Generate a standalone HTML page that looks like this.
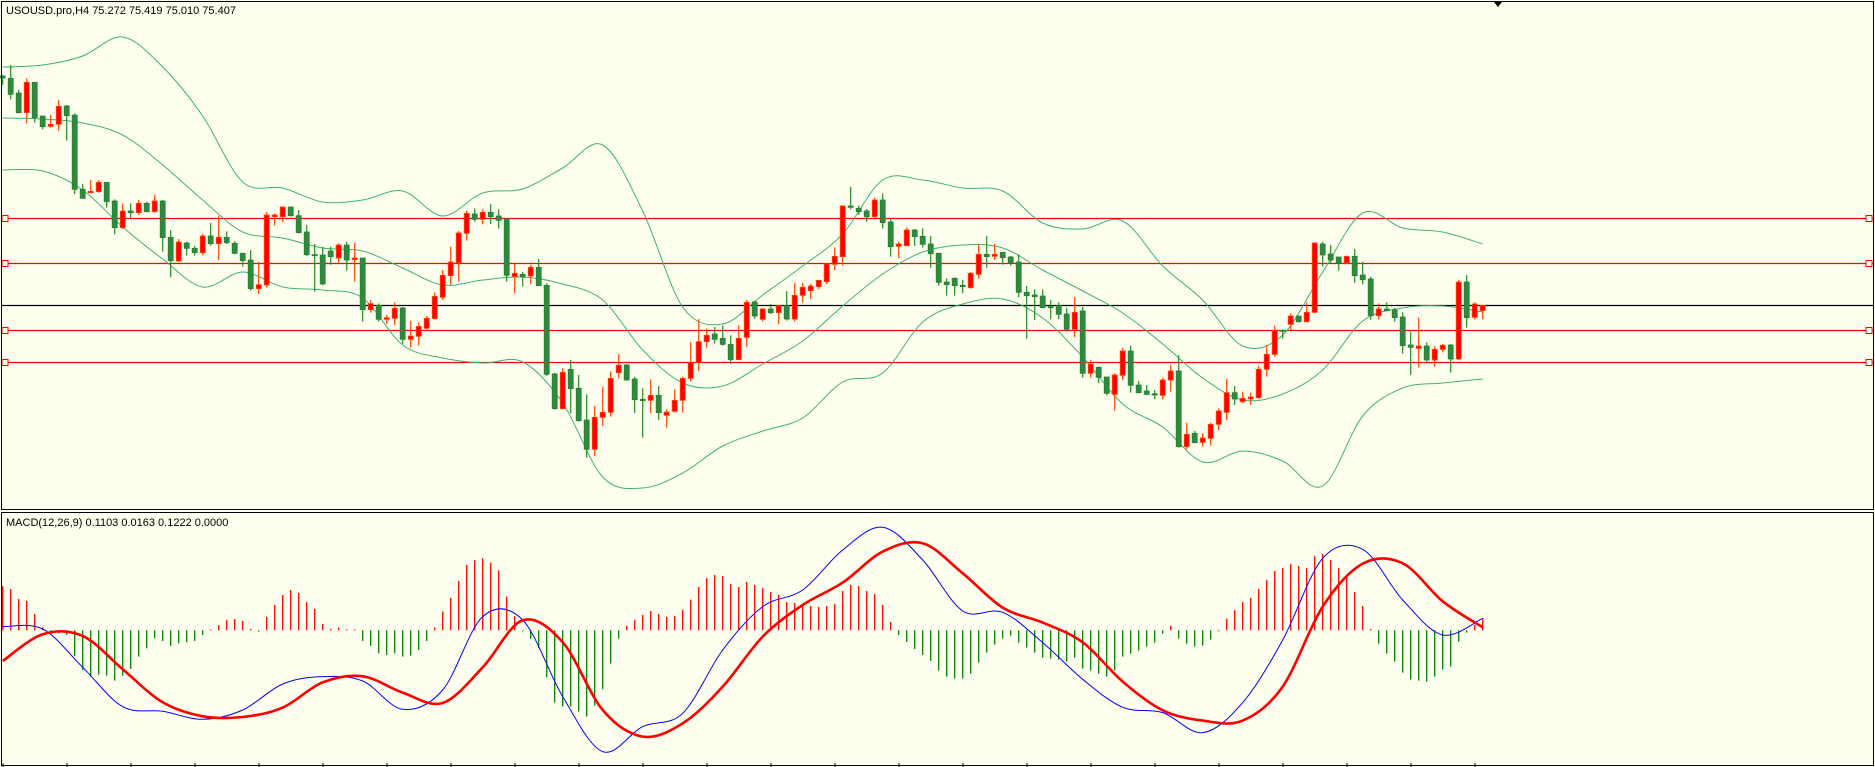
<!DOCTYPE html>
<html><head><meta charset="utf-8"><title>USOUSD.pro,H4</title>
<style>
html,body{margin:0;padding:0;background:#fffff0;}
svg{display:block;font-family:"Liberation Sans",Arial,sans-serif;}
</style></head>
<body>
<svg id="chart" width="1875" height="767" viewBox="0 0 1875 767" xmlns="http://www.w3.org/2000/svg">
<rect x="0" y="0" width="1875" height="767" fill="#fffff0"/>
<g id="main"></g>
<g id="macd"></g>
<rect x="1.5" y="1.5" width="1872" height="508" fill="none" stroke="#000" stroke-width="1"/>
<rect x="1.5" y="512.5" width="1872" height="253" fill="none" stroke="#000" stroke-width="1"/>
<polygon points="1494,2 1502,2 1498,7" fill="#000"/>
<text x="6" y="14" font-size="11" fill="#000">USOUSD.pro,H4  75.272 75.419 75.010 75.407</text>
<text x="6" y="526" font-size="11" fill="#000">MACD(12,26,9) 0.1103 0.0163 0.1222 0.0000</text>
</svg>
<script>
const opens=[82.52,82.45,82.01,81.42,82.33,81.32,81.01,81.07,81.62,81.35,79.12,79.02,79.05,79.33,78.77,77.97,78.47,78.42,78.70,78.45,78.77,77.68,76.97,77.51,77.35,77.22,77.72,77.49,77.68,77.50,77.20,77.00,76.14,76.25,78.30,78.30,78.59,78.33,77.84,77.16,77.15,77.27,77.06,77.45,77.01,77.06,75.51,75.64,75.22,75.25,75.56,74.62,74.71,74.95,75.24,75.88,76.53,76.92,77.80,78.38,78.22,78.43,78.32,78.23,76.50,76.57,76.52,76.78,76.24,73.58,72.54,73.72,73.15,72.20,71.32,72.28,72.43,73.62,73.85,73.43,72.82,72.79,72.94,72.34,72.46,72.79,73.45,73.92,74.55,74.78,74.65,74.47,74.01,74.68,75.74,75.22,75.53,75.42,75.63,75.23,75.94,76.08,76.20,76.35,76.87,77.10,78.62,78.55,78.47,78.30,78.80,78.14,77.41,77.43,77.90,77.71,77.48,77.20,76.34,76.45,76.24,76.17,76.57,77.17,77.11,77.23,77.09,76.94,76.03,75.95,75.92,75.60,75.63,75.38,74.92,75.47,73.60,73.78,73.49,72.97,73.54,74.27,73.25,73.07,72.99,72.94,73.40,73.67,71.40,71.80,71.53,71.65,72.07,72.43,73.02,72.75,72.83,72.87,73.72,74.17,74.89,75.07,75.32,75.15,75.43,77.48,77.18,77.09,76.91,77.11,76.55,76.43,75.33,75.53,75.50,75.29,74.45,74.35,74.42,74.00,74.32,74.45,74.03,76.34,75.28,75.48];
const highs=[82.55,82.85,82.10,82.45,82.33,81.32,81.35,81.80,81.65,81.40,79.28,79.40,79.40,79.33,78.82,78.70,78.70,78.80,78.75,78.95,78.80,77.90,77.63,77.55,77.42,77.78,78.11,78.33,77.86,77.56,77.22,77.30,76.95,78.44,78.40,78.60,78.59,78.50,78.05,77.48,77.40,77.40,77.50,77.55,77.52,77.06,75.80,75.70,75.35,75.73,75.59,75.17,75.13,75.32,76.03,76.70,77.40,77.87,78.48,78.55,78.52,78.68,78.52,78.25,76.90,76.64,76.85,77.03,76.30,73.62,73.75,74.00,73.55,72.97,72.62,73.20,73.65,74.18,73.88,73.50,73.15,73.42,73.22,72.52,73.12,73.50,74.54,75.23,74.94,74.99,75.03,74.74,75.05,75.80,75.78,75.56,75.68,75.65,76.07,76.31,76.31,76.28,76.41,76.90,77.38,78.65,79.20,78.63,78.53,78.87,79.00,78.22,77.55,77.97,77.93,77.95,77.72,77.22,76.45,76.48,76.40,76.64,77.48,77.72,77.48,77.23,77.12,77.17,76.22,76.12,76.12,75.80,75.73,75.57,75.89,75.59,74.00,73.80,73.49,73.60,74.37,74.43,73.37,73.25,73.10,73.47,73.85,74.15,72.12,71.87,71.80,72.12,72.55,73.43,73.22,73.05,73.02,73.83,74.45,75.03,74.92,75.40,75.32,75.73,77.53,77.55,77.45,77.09,77.13,77.33,76.95,76.50,75.70,75.73,75.56,75.43,74.84,75.27,74.53,74.42,74.48,74.48,76.40,76.55,75.73,75.64];
const lows=[82.25,81.82,81.40,81.10,81.12,80.92,80.97,80.88,80.58,78.97,78.85,79.00,79.02,78.57,77.77,77.93,78.25,78.35,78.43,78.42,77.25,76.48,76.94,77.13,77.13,77.15,77.43,77.00,77.48,77.17,76.80,76.08,75.98,76.17,78.03,78.14,78.30,77.80,77.12,76.05,76.24,76.86,76.90,76.68,76.35,75.15,75.42,75.15,75.08,75.05,74.48,74.37,74.43,74.92,75.21,75.80,76.25,76.35,77.58,78.15,78.07,78.08,77.94,76.35,76.00,76.20,76.28,76.23,73.52,72.51,72.52,72.40,72.15,71.07,71.12,72.02,72.30,73.45,73.38,72.41,71.67,72.40,72.20,71.97,72.42,72.42,73.35,73.67,74.37,74.50,74.43,73.88,74.00,74.40,75.24,75.15,75.38,75.08,75.18,75.15,75.72,75.83,76.12,76.28,76.70,76.83,78.52,78.35,78.14,78.27,77.94,77.10,77.06,77.42,77.42,77.37,76.77,76.23,75.93,75.93,76.00,76.14,76.43,76.77,77.00,76.86,76.83,75.88,74.64,75.20,75.55,75.22,75.22,74.85,74.68,73.47,73.47,73.30,72.94,72.48,73.40,73.02,73.00,72.94,72.82,72.82,73.05,71.37,71.32,71.50,71.40,71.43,71.90,72.20,72.65,72.70,72.65,72.84,73.50,74.10,74.64,74.85,75.12,75.13,75.40,76.80,76.90,76.68,76.87,76.32,76.27,75.21,75.22,75.46,75.15,74.19,73.55,73.77,73.95,73.80,74.23,73.62,74.00,74.97,75.22,75.22];
const closes=[82.46,81.97,81.42,82.33,81.27,81.00,81.07,81.61,81.33,79.12,78.85,79.06,79.33,78.75,77.97,78.47,78.42,78.70,78.45,78.77,77.67,76.98,77.54,77.35,77.22,77.72,77.49,77.68,77.52,77.20,76.98,76.14,76.26,78.35,78.35,78.59,78.33,77.82,77.16,77.13,76.28,77.10,77.45,77.00,77.06,75.51,75.69,75.22,75.27,75.55,74.62,74.72,75.01,75.25,75.91,76.54,76.94,77.81,78.40,78.22,78.43,78.30,78.19,76.54,76.60,76.49,76.78,76.23,73.57,72.54,73.63,73.14,72.18,71.32,72.28,72.43,73.45,73.84,73.40,72.81,72.78,72.94,72.42,72.44,72.79,73.45,73.92,74.55,74.74,74.62,74.47,74.01,74.65,75.73,75.32,75.53,75.42,75.63,75.23,75.94,76.18,76.22,76.39,76.88,77.11,78.62,78.58,78.45,78.30,78.80,78.12,77.40,77.48,77.90,77.70,77.47,77.19,76.33,76.26,76.23,76.20,76.60,77.17,77.10,77.17,77.07,76.91,76.03,75.93,75.90,75.57,75.57,75.37,74.92,75.43,73.60,73.88,73.48,73.00,73.55,74.27,73.24,73.02,72.97,72.95,73.40,73.67,71.40,71.77,71.52,71.66,72.07,72.47,73.02,72.83,72.85,72.89,73.72,74.17,74.89,74.86,75.32,75.15,75.43,77.51,77.15,77.00,76.91,77.11,76.53,76.41,75.33,75.53,75.48,75.27,74.43,74.38,74.42,74.00,74.32,74.44,74.03,76.34,75.27,75.68,75.64];

const bandIndex=[0,5,10,15,20,25,30,35,40,45,50,55,60,65,70,75,80,85,90,95,100,105,110,115,120,125,130,135,140,145,150,155,160,165,170,175,180,185];
const bandUpper=[82.79,82.85,83.12,83.69,82.79,81.32,79.34,79.16,78.74,78.80,79.07,78.32,79.01,79.13,79.76,80.45,78.47,75.59,75.08,75.95,76.82,77.78,79.40,79.40,79.16,79.07,78.11,77.93,78.17,76.82,75.80,74.42,74.75,76.64,78.41,77.96,77.84,77.48];
const bandMiddle=[81.26,81.23,81.11,80.75,79.85,78.80,77.84,77.66,77.36,77.27,76.76,76.25,76.40,76.49,76.28,75.80,74.30,73.31,73.22,73.88,74.57,75.62,76.58,77.24,77.45,77.36,76.70,76.07,75.41,74.48,73.46,72.80,72.98,73.70,75.17,75.56,75.62,75.44];
const bandLower=[79.70,79.67,79.10,77.99,77.03,76.19,76.64,76.19,76.10,75.86,74.45,74.06,73.91,73.94,72.71,70.49,70.16,70.61,71.42,71.87,72.26,73.34,73.61,75.14,75.68,75.83,75.26,74.09,72.68,71.99,70.94,71.27,70.97,70.22,72.32,73.16,73.31,73.43];

const levelPrices=[78.25,76.90,74.89,73.93];
const currentPrice=75.65;

const macdMain=[0.011,0.004,-0.111,-0.229,-0.243,-0.267,-0.239,-0.161,-0.139,-0.152,-0.237,-0.179,0.041,0.031,-0.199,-0.364,-0.289,-0.249,-0.059,0.071,0.121,0.241,0.309,0.211,0.058,0.054,-0.037,-0.147,-0.231,-0.247,-0.307,-0.217,-0.029,0.216,0.243,0.091,-0.014,0.036];
const macdSignal=[-0.092,-0.012,-0.017,-0.117,-0.216,-0.258,-0.260,-0.232,-0.156,-0.138,-0.187,-0.218,-0.111,0.030,-0.036,-0.239,-0.319,-0.279,-0.169,-0.019,0.076,0.143,0.236,0.261,0.171,0.068,0.023,-0.036,-0.154,-0.240,-0.271,-0.271,-0.169,0.071,0.200,0.201,0.087,0.009];
const macdHist=[0.133,0.124,0.094,0.088,0.049,0.009,-0.011,-0.009,-0.014,-0.077,-0.119,-0.139,-0.133,-0.136,-0.151,-0.136,-0.116,-0.079,-0.054,-0.024,-0.032,-0.047,-0.039,-0.036,-0.032,-0.014,0,0.016,0.031,0.034,0.028,0.004,-0.004,0.040,0.076,0.106,0.121,0.112,0.085,0.064,0.019,0.005,0.008,0.002,0.002,-0.032,-0.047,-0.069,-0.074,-0.069,-0.079,-0.076,-0.059,-0.032,0.008,0.056,0.097,0.148,0.196,0.211,0.216,0.203,0.180,
0.101,0.043,-0.001,-0.026,-0.054,-0.142,-0.217,-0.229,-0.229,-0.244,-0.259,-0.226,-0.177,-0.100,-0.025,0.014,0.031,0.046,0.058,0.049,0.040,0.043,0.062,0.092,0.130,0.157,0.166,0.163,0.139,0.130,0.145,0.136,0.127,0.115,0.106,0.085,0.082,0.079,0.073,0.070,0.073,0.079,0.118,0.136,0.133,0.118,0.109,0.076,0.025,-0.014,-0.035,-0.056,-0.074,-0.092,-0.121,-0.139,-0.145,-0.145,-0.130,-0.097,-0.067,
-0.043,-0.025,-0.016,-0.037,-0.052,-0.067,-0.082,-0.085,-0.088,-0.094,-0.082,-0.115,-0.121,-0.130,-0.139,-0.121,-0.079,-0.070,-0.061,-0.049,-0.037,-0.010,0.014,-0.025,-0.040,-0.049,-0.046,-0.028,-0.002,0.035,0.061,0.085,0.097,0.124,0.151,0.178,0.187,0.199,0.193,0.187,0.223,0.229,0.211,0.187,0.160,0.115,0.073,0.004,-0.040,-0.070,-0.094,-0.127,-0.148,-0.151,-0.154,-0.139,-0.118,-0.109,-0.034,-0.007,0.017,0.037];

const NS='http://www.w3.org/2000/svg';
function xScale(i){return 2.7+8*i;}
function yPrice(p){return 60+(83-p)*100/3;}
function yMacd(v){return 630.3-v*333.3;}
function mk(tag,attrs,parent){const e=document.createElementNS(NS,tag);for(const k in attrs)e.setAttribute(k,attrs[k]);parent.appendChild(e);return e;}
function smoothPath(pts){
  let d='M'+pts[0][0].toFixed(1)+','+pts[0][1].toFixed(1);
  for(let i=0;i<pts.length-1;i++){
    const p0=pts[Math.max(0,i-1)],p1=pts[i],p2=pts[i+1],p3=pts[Math.min(pts.length-1,i+2)];
    const c1x=p1[0]+(p2[0]-p0[0])/6,c1y=p1[1]+(p2[1]-p0[1])/6;
    const c2x=p2[0]-(p3[0]-p1[0])/6,c2y=p2[1]-(p3[1]-p1[1])/6;
    d+='C'+c1x.toFixed(1)+','+c1y.toFixed(1)+' '+c2x.toFixed(1)+','+c2y.toFixed(1)+' '+p2[0].toFixed(1)+','+p2[1].toFixed(1);
  }
  return d;
}
const main=document.getElementById('main');
const macd=document.getElementById('macd');

levelPrices.forEach(function(p){
  const y=Math.round(yPrice(p))+0.5;
  const ln=mk('line',{x1:2,x2:1873,y1:y,y2:y,stroke:'#ff0000','stroke-width':1.3},main);
  
  
  const h1=mk('rect',{x:2,y:y-3,width:6,height:6,fill:'#fffff0',stroke:'#ff0000','stroke-width':1},main);
  
  
  const h2=mk('rect',{x:1866,y:y-3,width:6,height:6,fill:'#fffff0',stroke:'#ff0000','stroke-width':1},main);
  
  
});
const cy=Math.round(yPrice(currentPrice))+0.5;
const cl=mk('line',{x1:2,x2:1873,y1:cy,y2:cy,stroke:'#000','stroke-width':1.2},main);



[[bandUpper,'bollinger-upper'],[bandMiddle,'bollinger-middle'],[bandLower,'bollinger-lower']].forEach(function(b){
  const pts=bandIndex.map(function(ix,k){return [xScale(ix),yPrice(b[0][k])];});
  const p=mk('path',{d:smoothPath(pts),fill:'none',stroke:'#3cb371','stroke-width':1},main);
  
  
});

for(let i=0;i<opens.length;i++){
  const up=closes[i]>=opens[i];
  const g=mk('g',{},main);
  
  
  const x=xScale(i);
  const wick=up?'#ff4500':'#228b22';
  mk('line',{x1:x,x2:x,y1:yPrice(highs[i]),y2:yPrice(lows[i]),stroke:wick,'stroke-width':1.2},g);
  const top=yPrice(Math.max(opens[i],closes[i]));
  const bot=yPrice(Math.min(opens[i],closes[i]));
  mk('rect',{x:x-2.5,y:top,width:5,height:Math.max(1,bot-top),fill:up?'#ff0000':'#2e8b3e',stroke:up?'#ff4500':'#2a7f38','stroke-width':0.8},g);
}

const y0=yMacd(0);
for(let i=0;i<macdHist.length;i++){
  const v=macdHist[i];
  const x=xScale(i);
  const b=mk('line',{x1:x,x2:x,y1:y0,y2:Math.abs(yMacd(v)-y0)<1?y0+(v>=0?-1:1):yMacd(v),stroke:v>=0?'#ff0000':'#008000','stroke-width':1.3},macd);
  
  
}
const mline=mk('path',{d:smoothPath(bandIndex.map(function(ix,k){return [xScale(ix),yMacd(macdMain[k])];})),fill:'none',stroke:'#0000ff','stroke-width':1},macd);


const sline=mk('path',{d:smoothPath(bandIndex.map(function(ix,k){return [xScale(ix),yMacd(macdSignal[k])];})),fill:'none',stroke:'#ff0000','stroke-width':2.6},macd);



for(let t=0;t<30;t++){
  const x=3+64*t;
  if(x>1480)break;
  const tk=mk('line',{x1:x,x2:x,y1:763,y2:767,stroke:'#000','stroke-width':1},macd);
  
  
}
</script>
</body></html>
